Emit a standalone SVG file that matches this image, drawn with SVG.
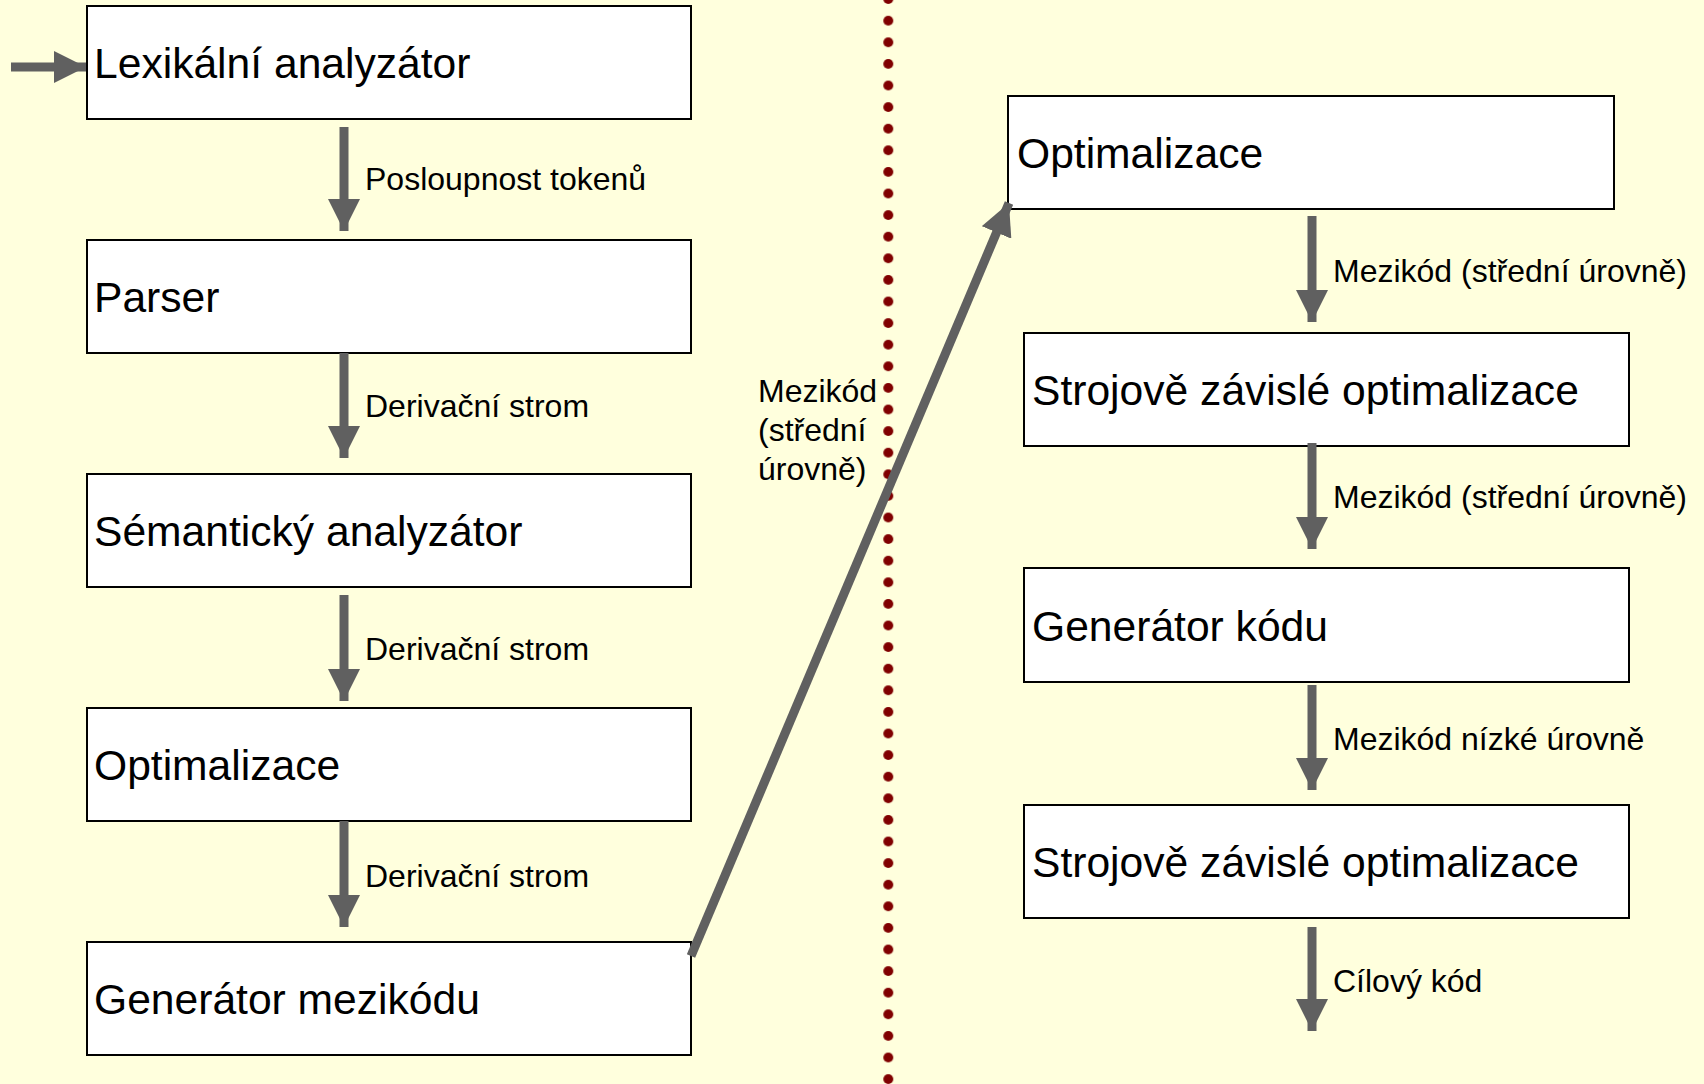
<svg xmlns="http://www.w3.org/2000/svg" width="1704" height="1084" viewBox="0 0 1704 1084">
  <style>
    .box { fill: #ffffff; stroke: #000000; stroke-width: 2; }
    .title { font-family: "Liberation Sans", Arial, sans-serif; font-size: 42.6px; fill: #000000; }
    .lbl { font-family: "Liberation Sans", Arial, sans-serif; font-size: 32px; fill: #000000; }
    .flow { stroke: #606060; stroke-width: 9; fill: none; marker-end: url(#head); }
  </style>
  <defs>
    <marker id="head" markerUnits="userSpaceOnUse" markerWidth="32" markerHeight="32" refX="32" refY="16" orient="auto" viewBox="0 0 32 32">
      <path d="M0,0 L32,16 L0,32 Z" fill="#606060"/>
    </marker>
    <pattern id="dots" x="877.3" y="-11.7" width="22" height="21.6" patternUnits="userSpaceOnUse">
      <circle cx="11" cy="10.8" r="5" fill="#800000"/>
    </pattern>
  </defs>

  <!-- page background -->
  <rect x="0" y="0" width="1704" height="1084" fill="#ffffdd"/>

  <!-- dotted separator between front end and back end -->
  <rect id="separator" x="877.3" y="0" width="22" height="1084" fill="url(#dots)"/>

  <!-- front end -->
  <g id="lexer">
    <rect class="box" x="87" y="6" width="604" height="113"/>
    <text class="title" x="94" y="78">Lexikální analyzátor</text>
  </g>
  <g id="parser">
    <rect class="box" x="87" y="240" width="604" height="113"/>
    <text class="title" x="94" y="312">Parser</text>
  </g>
  <g id="semantic">
    <rect class="box" x="87" y="474" width="604" height="113"/>
    <text class="title" x="94" y="546">Sémantický analyzátor</text>
  </g>
  <g id="optimizer-front">
    <rect class="box" x="87" y="708" width="604" height="113"/>
    <text class="title" x="94" y="780">Optimalizace</text>
  </g>
  <g id="ir-generator">
    <rect class="box" x="87" y="942" width="604" height="113"/>
    <text class="title" x="94" y="1014">Generátor mezikódu</text>
  </g>

  <!-- back end -->
  <g id="optimizer-back">
    <rect class="box" x="1008" y="96" width="606" height="113"/>
    <text class="title" x="1017" y="168">Optimalizace</text>
  </g>
  <g id="machine-opt-1">
    <rect class="box" x="1024" y="333" width="605" height="113"/>
    <text class="title" x="1032" y="405">Strojově závislé optimalizace</text>
  </g>
  <g id="codegen">
    <rect class="box" x="1024" y="568" width="605" height="114"/>
    <text class="title" x="1032" y="641">Generátor kódu</text>
  </g>
  <g id="machine-opt-2">
    <rect class="box" x="1024" y="805" width="605" height="113"/>
    <text class="title" x="1032" y="877">Strojově závislé optimalizace</text>
  </g>

  <!-- connectors -->
  <g id="connectors">
    <line class="flow" x1="11" y1="67" x2="86" y2="67"/>
    <line class="flow" x1="344" y1="127" x2="344" y2="231"/>
    <line class="flow" x1="344" y1="353" x2="344" y2="458"/>
    <line class="flow" x1="344" y1="595" x2="344" y2="701"/>
    <line class="flow" x1="344" y1="821" x2="344" y2="927"/>
    <line class="flow" x1="691" y1="956" x2="1009" y2="203"/>
    <line class="flow" x1="1312" y1="216" x2="1312" y2="322"/>
    <line class="flow" x1="1312" y1="443" x2="1312" y2="549"/>
    <line class="flow" x1="1312" y1="685" x2="1312" y2="790"/>
    <line class="flow" x1="1312" y1="927" x2="1312" y2="1031"/>

    <text class="lbl" x="365" y="190">Posloupnost tokenů</text>
    <text class="lbl" x="365" y="417">Derivační strom</text>
    <text class="lbl" x="365" y="660">Derivační strom</text>
    <text class="lbl" x="365" y="887">Derivační strom</text>
    <text class="lbl" x="758" y="402">Mezikód</text>
    <text class="lbl" x="758" y="441">(střední</text>
    <text class="lbl" x="758" y="480">úrovně)</text>
    <text class="lbl" x="1333" y="282">Mezikód (střední úrovně)</text>
    <text class="lbl" x="1333" y="508">Mezikód (střední úrovně)</text>
    <text class="lbl" x="1333" y="750">Mezikód nízké úrovně</text>
    <text class="lbl" x="1333" y="992">Cílový kód</text>
  </g>
</svg>
